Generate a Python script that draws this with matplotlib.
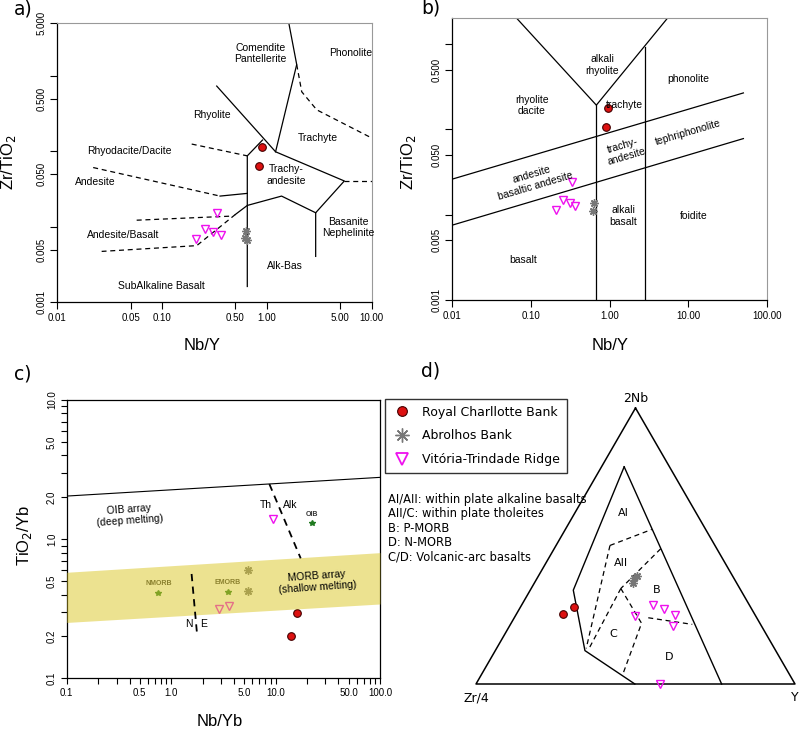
import numpy as np
import matplotlib
matplotlib.use('Agg')
import matplotlib.pyplot as plt
from matplotlib.ticker import FixedLocator, NullLocator
from matplotlib.lines import Line2D

plt.rcParams['font.family'] = ['Liberation Sans', 'DejaVu Sans']

# ---------------- data ----------------
# panel a: Nb/Y vs Zr/TiO2 (Winchester & Floyd)
a_rcb_x = [0.891, 0.847]
a_rcb_y = [0.115, 0.064]
a_abr_x = [0.63, 0.62, 0.64]
a_abr_y = [0.0088, 0.0072, 0.0066]
a_vtr_x = [0.336, 0.259, 0.308, 0.362, 0.209]
a_vtr_y = [0.0152, 0.0093, 0.0085, 0.0077, 0.0069]

a_solid = [
    [(1.62, 5.0), (1.925, 1.42), (1.21, 0.099)],
    [(0.332, 0.736), (1.21, 0.099), (5.48, 0.0406), (2.92, 0.01538), (2.92, 0.00406)],
    [(0.650, 0.00162), (0.650, 0.0874), (0.908, 0.1416)],
    [(2.92, 0.01538), (1.38, 0.0256), (0.650, 0.01924), (0.50, 0.0146)],
    [(0.357, 0.0256), (0.650, 0.0278)],
]
a_dashed = [
    [(1.925, 1.42), (2.15, 0.618), (2.99, 0.356), (10.0, 0.1508)],
    [(5.48, 0.0406), (10.0, 0.0406)],
    [(0.1916, 0.1253), (0.650, 0.0874)],
    [(0.0220, 0.0612), (0.357, 0.0256)],
    [(0.0572, 0.01226), (0.445, 0.01386)],
    [(0.50, 0.0146), (0.214, 0.00564), (0.0265, 0.00473)],
]
a_fields = [
    ("Comendite\nPantellerite", 0.873, 1.99),
    ("Phonolite", 6.35, 1.99),
    ("Rhyolite", 0.301, 0.305),
    ("Trachyte", 3.05, 0.152),
    ("Rhyodacite/Dacite", 0.0487, 0.101),
    ("Trachy-\nandesite", 1.545, 0.0483),
    ("Andesite", 0.0232, 0.0394),
    ("Andesite/Basalt", 0.0426, 0.00773),
    ("Basanite\nNephelinite", 5.98, 0.0098),
    ("Alk-Bas", 1.47, 0.00299),
    ("SubAlkaline Basalt", 0.099, 0.00162),
]
a_xticks = [0.01, 0.05, 0.1, 0.5, 1, 5, 10]
a_xlabels = ["0.01", "0.05", "0.10", "0.50", "1.00", "5.00", "10.00"]
a_yticks = [0.001, 0.005, 0.01, 0.05, 0.1, 0.5, 1, 5]
a_ylabels = ["0.001", "0.005", "", "0.050", "", "0.500", "", "5.000"]

# panel b: Nb/Y vs Zr/TiO2 (Pearce 1996)
b_rcb_x = [0.95, 0.893]
b_rcb_y = [0.179, 0.107]
b_abr_x = [0.641, 0.611]
b_abr_y = [0.0137, 0.0109]
b_vtr_x = [0.336, 0.259, 0.311, 0.367, 0.208]
b_vtr_y = [0.0239, 0.0150, 0.0137, 0.0125, 0.0112]

b_lines = [
    [(0.066, 2.0), (0.68, 0.192), (5.45, 2.0)],
    [(0.68, 0.192), (0.68, 0.001)],
    [(2.86, 0.92), (2.86, 0.001)],
    [(0.01, 0.0261), (50.5, 0.267)],
    [(0.01, 0.00754), (50.5, 0.0779)],
]
b_fields = [
    ("alkali\nrhyolite", 0.804, 0.571, 0),
    ("phonolite", 10.07, 0.389, 0),
    ("rhyolite\ndacite", 0.102, 0.191, 0),
    ("trachyte", 1.53, 0.1946, 0),
    ("tephriphonolite", 10.07, 0.0908, 16.5),
    ("trachy-\nandesite", 1.57, 0.0558, 16.5),
    ("andesite\nbasaltic andesite", 0.1074, 0.0254, 16.5),
    ("alkali\nbasalt", 1.50, 0.0096, 0),
    ("foidite", 11.7, 0.0096, 0),
    ("basalt", 0.080, 0.00294, 0),
]
b_xticks = [0.01, 0.1, 1, 10, 100]
b_xlabels = ["0.01", "0.10", "1.00", "10.00", "100.00"]
b_yticks = [0.001, 0.005, 0.01, 0.05, 0.1, 0.5, 1]
b_ylabels = ["0.001", "0.005", "", "0.050", "", "0.500", ""]

# panel c: Nb/Yb vs TiO2/Yb
c_rcb_x = [16.2, 14.0]
c_rcb_y = [0.297, 0.203]
c_abr_x = [5.49, 5.49]
c_abr_y = [0.60, 0.425]
c_vtr_x = [2.88, 3.56, 9.39]
c_vtr_y = [0.313, 0.333, 1.40]
c_ref_names = ["NMORB", "EMORB", "OIB"]
c_ref_x = [0.755, 3.51, 22.2]
c_ref_y = [0.413, 0.42, 1.31]
c_oib_line = [(0.1, 2.04), (100, 2.78)]
c_morb_x = [0.1, 100]
c_morb_top = [0.578, 0.80]
c_morb_bot = [0.252, 0.342]
c_th_alk = [(8.72, 2.49), (17.4, 0.728)]
c_n_e = [(1.57, 0.562), (1.78, 0.199)]
c_xlabeled = {0.1: "0.1", 0.5: "0.5", 1: "1.0", 5: "5.0", 10: "10.0", 50: "50.0", 100: "100.0"}
c_ylabeled = {0.1: "0.1", 0.2: "0.2", 0.5: "0.5", 1: "1.0", 2: "2.0", 5: "5.0", 10: "10.0"}

# panel d: 2Nb - Zr/4 - Y ternary (fractions)
d_rcb_nb = [0.253, 0.279]
d_rcb_zr = [0.602, 0.552]
d_rcb_y = [0.145, 0.169]
d_abr_nb = [0.383, 0.367, 0.390]
d_abr_zr = [0.312, 0.323, 0.300]
d_abr_y = [0.305, 0.310, 0.310]
d_vtr_nb = [0.288, 0.273, 0.250, 0.209, 0.246, 0.0]
d_vtr_zr = [0.302, 0.274, 0.250, 0.277, 0.378, 0.422]
d_vtr_y = [0.410, 0.453, 0.500, 0.514, 0.376, 0.578]

d_solid = [
    [(0.787, 0.142, 0.071), (0.0, 0.230, 0.770)],
    [(0.787, 0.142, 0.071), (0.340, 0.525, 0.135), (0.121, 0.598, 0.281), (0.0, 0.502, 0.498)],
]
d_dashed = [
    [(0.502, 0.329, 0.169), (0.560, 0.169, 0.271)],
    [(0.502, 0.329, 0.169), (0.129, 0.590, 0.281)],
    [(0.490, 0.176, 0.334), (0.346, 0.373, 0.281)],
    [(0.346, 0.373, 0.281), (0.129, 0.581, 0.290)],
    [(0.346, 0.373, 0.281), (0.220, 0.371, 0.409), (0.033, 0.524, 0.443)],
    [(0.240, 0.340, 0.420), (0.216, 0.214, 0.570)],
]
d_fields = [
    ("AI", 0.620, 0.229, 0.151),
    ("AII", 0.440, 0.324, 0.236),
    ("B", 0.341, 0.264, 0.396),
    ("C", 0.180, 0.479, 0.341),
    ("D", 0.097, 0.346, 0.558),
]
d_notes = [
    "AI/AII: within plate alkaline basalts",
    "AII/C: within plate tholeites",
    "B: P-MORB",
    "D: N-MORB",
    "C/D: Volcanic-arc basalts",
]
group_names = ["Royal Charllotte Bank", "Abrolhos Bank", "Vitória-Trindade Ridge"]

# ---------------- styles ----------------
RED = dict(marker='o', ls='none', ms=5.5, mfc='#dd1111', mec='#440000', mew=0.8)
GRAY = dict(marker=(8, 2, 0), ls='none', ms=6, color='#777777', mew=1.0)
MAG = dict(marker='v', ls='none', ms=6, mfc='none', mec='#ee11ee', mew=1.0)

W, H = 800, 729
fig = plt.figure(figsize=(W / 100, H / 100), dpi=100)


def px_axes(l, t, r, b):
    return fig.add_axes([l / W, 1 - b / H, (r - l) / W, (b - t) / H])


def draw_lines(ax, lines, **kw):
    for ln in lines:
        xs, ys = zip(*ln)
        ax.plot(xs, ys, color='black', lw=0.9, **kw)


def style_classic(ax, xt, xl, yt, yl):
    ax.set_xscale('log')
    ax.set_yscale('log')
    ax.xaxis.set_major_locator(FixedLocator(xt))
    ax.yaxis.set_major_locator(FixedLocator(yt))
    ax.xaxis.set_minor_locator(NullLocator())
    ax.yaxis.set_minor_locator(NullLocator())
    ax.set_xticklabels(xl)
    ax.set_yticklabels(yl, rotation=90, va='center')
    ax.tick_params(labelsize=7, length=5, width=0.8, pad=3)
    for s in ['top', 'right']:
        ax.spines[s].set_color('#999999')
    ax.spines['left'].set_linewidth(0.9)
    ax.spines['bottom'].set_linewidth(0.9)


# ---------------- panel a ----------------
ax = px_axes(57.3, 23.3, 371.7, 302.3)
ax.set_xlim(0.01, 10)
ax.set_ylim(0.001, 5)
style_classic(ax, a_xticks, a_xlabels, a_yticks, a_ylabels)
draw_lines(ax, a_solid)
draw_lines(ax, a_dashed, ls=(0, (4, 3)))
for t, x, y in a_fields:
    ax.text(x, y, t, fontsize=7.5, ha='center', va='center')
ax.plot(a_abr_x, a_abr_y, **GRAY)
ax.plot(a_vtr_x, a_vtr_y, **MAG)
ax.plot(a_rcb_x, a_rcb_y, **RED)
fig.text(202 / W, 1 - 346 / H, "Nb/Y", fontsize=12, ha='center', va='center')
fig.text(9 / W, 1 - 162 / H, "Zr/TiO$_2$", fontsize=12, ha='center', va='center', rotation=90)

# ---------------- panel b ----------------
ax = px_axes(452.3, 18.3, 766.7, 300)
ax.set_xlim(0.01, 100)
ax.set_ylim(0.001, 2)
style_classic(ax, b_xticks, b_xlabels, b_yticks, b_ylabels)
draw_lines(ax, b_lines)
for t, x, y, r in b_fields:
    ax.text(x, y, t, fontsize=7.5, ha='center', va='center', rotation=r)
ax.plot(b_abr_x, b_abr_y, **GRAY)
ax.plot(b_vtr_x, b_vtr_y, **MAG)
ax.plot(b_rcb_x, b_rcb_y, **RED)
fig.text(610 / W, 1 - 346 / H, "Nb/Y", fontsize=12, ha='center', va='center')
fig.text(408 / W, 1 - 162 / H, "Zr/TiO$_2$", fontsize=12, ha='center', va='center', rotation=90)

# ---------------- panel c ----------------
ax = px_axes(66.7, 400, 380, 678.3)
ax.set_xscale('log')
ax.set_yscale('log')
ax.set_xlim(0.1, 100)
ax.set_ylim(0.1, 10)
xt = [m * 10.0 ** e for e in (-1, 0, 1) for m in range(1, 10)] + [100]
yt = [m * 10.0 ** e for e in (-1, 0) for m in range(1, 10)] + [10]
ax.xaxis.set_major_locator(FixedLocator(xt))
ax.yaxis.set_major_locator(FixedLocator(yt))
ax.xaxis.set_minor_locator(NullLocator())
ax.yaxis.set_minor_locator(NullLocator())
ax.set_xticklabels([next((v for k, v in c_xlabeled.items() if abs(k - t) < 1e-9), "") for t in xt])
ax.set_yticklabels([next((v for k, v in c_ylabeled.items() if abs(k - t) < 1e-9), "") for t in yt],
                   rotation=90, va='center')
ax.tick_params(labelsize=7, length=4, width=0.8, pad=3)
for s in ax.spines.values():
    s.set_linewidth(0.9)

xs, ys = zip(*c_oib_line)
ax.plot(xs, ys, color='black', lw=0.8)
ax.plot(c_ref_x, c_ref_y, marker='*', ls='none', ms=4, color='#1f7a1f')
for n, x, y in zip(c_ref_names, c_ref_x, c_ref_y):
    ax.text(x, y * 1.09, n, fontsize=5, fontweight='bold', color='#333333', ha='center', va='bottom')
ax.plot(c_abr_x, c_abr_y, **GRAY)
ax.plot(c_vtr_x, c_vtr_y, **MAG)
ax.plot(c_rcb_x, c_rcb_y, **RED)
ax.fill_between(c_morb_x, c_morb_bot, c_morb_top, color='#dcc82a', alpha=0.52, lw=0, zorder=3)
xs, ys = zip(*c_th_alk)
ax.plot(xs, ys, color='black', lw=1.3, ls=(0, (4, 3)), zorder=4)
xs, ys = zip(*c_n_e)
ax.plot(xs, ys, color='black', lw=1.3, ls=(0, (4, 3)), zorder=4)
ax.text(0.40, 1.49, "OIB array\n(deep melting)", fontsize=7.5, ha='center', va='center', rotation=4, zorder=5)
ax.text(24.8, 0.496, "MORB array\n(shallow melting)", fontsize=7.5, ha='center', va='center', rotation=4, zorder=5)
ax.text(8.05, 1.76, "Th", fontsize=7.5, ha='center', va='center')
ax.text(13.96, 1.76, "Alk", fontsize=7.5, ha='center', va='center')
ax.text(1.48, 0.244, "N", fontsize=7.5, ha='center', va='center', zorder=5)
ax.text(2.04, 0.244, "E", fontsize=7.5, ha='center', va='center', zorder=5)
fig.text(220 / W, 1 - 722 / H, "Nb/Yb", fontsize=12, ha='center', va='center')
fig.text(24 / W, 1 - 535 / H, "TiO$_2$/Yb", fontsize=12, ha='center', va='center', rotation=90)

# ---------------- panel d ----------------
def tern(nb, zr, y):
    nb, zr, y = (np.asarray(v, dtype=float) for v in (nb, zr, y))
    s = nb + zr + y
    return (y + nb / 2) / s, nb * np.sqrt(3) / 2 / s


ax = px_axes(476, 408, 795, 684)
ax.set_xlim(0, 1)
ax.set_ylim(0, np.sqrt(3) / 2)
ax.axis('off')
u, v = tern([1, 0, 0, 1], [0, 1, 0, 0], [0, 0, 1, 0])
ax.plot(u, v, color='black', lw=1.1, clip_on=False)
for ln in d_solid:
    u, v = tern(*zip(*ln))
    ax.plot(u, v, color='black', lw=1.0, clip_on=False)
for ln in d_dashed:
    u, v = tern(*zip(*ln))
    ax.plot(u, v, color='black', lw=0.9, ls=(0, (4, 3)), clip_on=False)
for t, nb, zr, y in d_fields:
    u, v = tern(nb, zr, y)
    ax.text(u, v, t, fontsize=8, ha='center', va='center', family='DejaVu Sans')
ax.plot(*tern(d_abr_nb, d_abr_zr, d_abr_y), **GRAY, clip_on=False)
ax.plot(*tern(d_vtr_nb, d_vtr_zr, d_vtr_y), **MAG, clip_on=False)
ax.plot(*tern(d_rcb_nb, d_rcb_zr, d_rcb_y), **RED, clip_on=False)
ax.text(0.5, np.sqrt(3) / 2 + 0.008, "2Nb", fontsize=9, ha='center', va='bottom', family='DejaVu Sans')
ax.text(0.0, -0.022, "Zr/4", fontsize=9, ha='center', va='top', family='DejaVu Sans')
ax.text(1.0, -0.022, "Y", fontsize=9, ha='center', va='top', family='DejaVu Sans')

handles = [Line2D([], [], **RED), Line2D([], [], **GRAY), Line2D([], [], **MAG)]
handles[0].set_markersize(7)
handles[1].set_markersize(10)
handles[2].set_markersize(9)
handles[2].set_markeredgewidth(1.3)
leg = fig.legend(handles, group_names, loc='upper left', bbox_to_anchor=(385 / W, 1 - 399 / H),
                 frameon=True, fancybox=False, edgecolor='black', borderaxespad=0,
                 prop={'family': 'DejaVu Sans', 'size': 9}, handlelength=1.6,
                 handletextpad=0.8, labelspacing=0.85, borderpad=0.55)
leg.get_frame().set_linewidth(1.0)
for i, t in enumerate(d_notes):
    fig.text(388 / W, 1 - (499 + 14.5 * i) / H, t, fontsize=8.3, family='DejaVu Sans', va='center')

# panel letters
for lab, x, y in [("a)", 14, 9), ("b)", 421, 8), ("c)", 14, 374), ("d)", 421, 371)]:
    fig.text(x / W, 1 - y / H, lab, fontsize=13.5, family='DejaVu Sans', va='center')

fig.savefig("out.png", dpi=100)
